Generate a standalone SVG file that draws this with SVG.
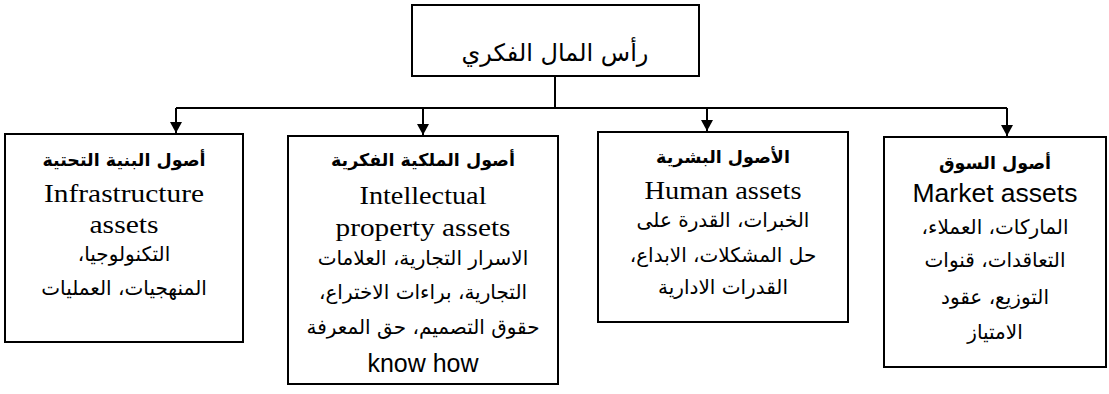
<svg xmlns="http://www.w3.org/2000/svg" width="1109" height="394" viewBox="0 0 1109 394">
<defs>
<marker id="ah" viewBox="0 0 11 12" markerWidth="11" markerHeight="12" refX="11" refY="6" orient="auto" markerUnits="userSpaceOnUse">
<path d="M0,0 L11,6 L0,12 z" fill="#000"/>
</marker>
<style>
.box{fill:#fff;stroke:#000;stroke-width:2}
.ln{stroke:#000;stroke-width:2;fill:none}
.ar{font-family:"DejaVu Sans","Liberation Sans",sans-serif;font-size:20px;fill:#000;text-anchor:middle}
.arb{font-family:"DejaVu Sans","Liberation Sans",sans-serif;font-size:17.5px;font-weight:bold;fill:#000;text-anchor:middle}
.en{font-family:"Liberation Serif",serif;font-size:26px;fill:#000;text-anchor:middle}
.ens{font-family:"Liberation Sans",sans-serif;font-size:26.5px;fill:#000;text-anchor:middle}
.ttl{font-family:"DejaVu Sans","Liberation Sans",sans-serif;font-size:24px;fill:#000;text-anchor:middle}
</style>
</defs>
<rect width="1109" height="394" fill="#fff"/>
<g id="connectors">
<line class="ln" x1="555" y1="76" x2="555" y2="108"/>
<line class="ln" x1="176" y1="108" x2="1007" y2="108"/>
<line class="ln" x1="176" y1="108" x2="176" y2="133" marker-end="url(#ah)"/>
<line class="ln" x1="423" y1="108" x2="423" y2="135" marker-end="url(#ah)"/>
<line class="ln" x1="707" y1="108" x2="707" y2="131" marker-end="url(#ah)"/>
<line class="ln" x1="1007" y1="108" x2="1007" y2="136" marker-end="url(#ah)"/>
</g>
<g id="root">
<rect class="box" x="412" y="5" width="287" height="71"/>
<text class="ttl" x="555" y="61" direction="rtl">رأس المال الفكري</text>
</g>
<g id="infrastructure">
<rect class="box" x="5" y="134" width="238" height="208"/>
<text class="arb" x="124" y="166" direction="rtl">أصول البنية التحتية</text>
<text class="en" x="124" y="202" textLength="160" lengthAdjust="spacingAndGlyphs">Infrastructure</text>
<text class="en" x="124" y="233" textLength="69" lengthAdjust="spacingAndGlyphs">assets</text>
<text class="ar" x="124" y="261" direction="rtl">التكنولوجيا،</text>
<text class="ar" x="124" y="295" direction="rtl">المنهجيات، العمليات</text>
</g>
<g id="intellectual">
<rect class="box" x="288" y="136" width="270" height="248"/>
<text class="arb" x="423" y="166" direction="rtl">أصول الملكية الفكرية</text>
<text class="en" x="423" y="204" textLength="127" lengthAdjust="spacingAndGlyphs">Intellectual</text>
<text class="en" x="423" y="236" textLength="175" lengthAdjust="spacingAndGlyphs">property assets</text>
<text class="ar" x="423" y="265" direction="rtl">الاسرار التجارية، العلامات</text>
<text class="ar" x="423" y="299" direction="rtl">التجارية، براءات الاختراع،</text>
<text class="ar" x="423" y="334" direction="rtl">حقوق التصميم، حق المعرفة</text>
<text class="ens" x="423" y="372" textLength="111" lengthAdjust="spacingAndGlyphs">know how</text>
</g>
<g id="human">
<rect class="box" x="598" y="132" width="250" height="190"/>
<text class="arb" x="723" y="163" direction="rtl">الأصول البشرية</text>
<text class="en" x="723" y="199" textLength="157" lengthAdjust="spacingAndGlyphs">Human assets</text>
<text class="ar" x="723" y="227" direction="rtl">الخبرات، القدرة على</text>
<text class="ar" x="723" y="262" direction="rtl">حل المشكلات، الابداع،</text>
<text class="ar" x="723" y="294" direction="rtl">القدرات الادارية</text>
</g>
<g id="market">
<rect class="box" x="884" y="137" width="222" height="230"/>
<text class="arb" x="995" y="169" direction="rtl">أصول السوق</text>
<text class="ens" x="995" y="202">Market assets</text>
<text class="ar" x="995" y="234" direction="rtl">الماركات، العملاء،</text>
<text class="ar" x="995" y="267" direction="rtl">التعاقدات، قنوات</text>
<text class="ar" x="995" y="304" direction="rtl">التوزيع، عقود</text>
<text class="ar" x="995" y="339" direction="rtl">الامتياز</text>
</g>
</svg>
